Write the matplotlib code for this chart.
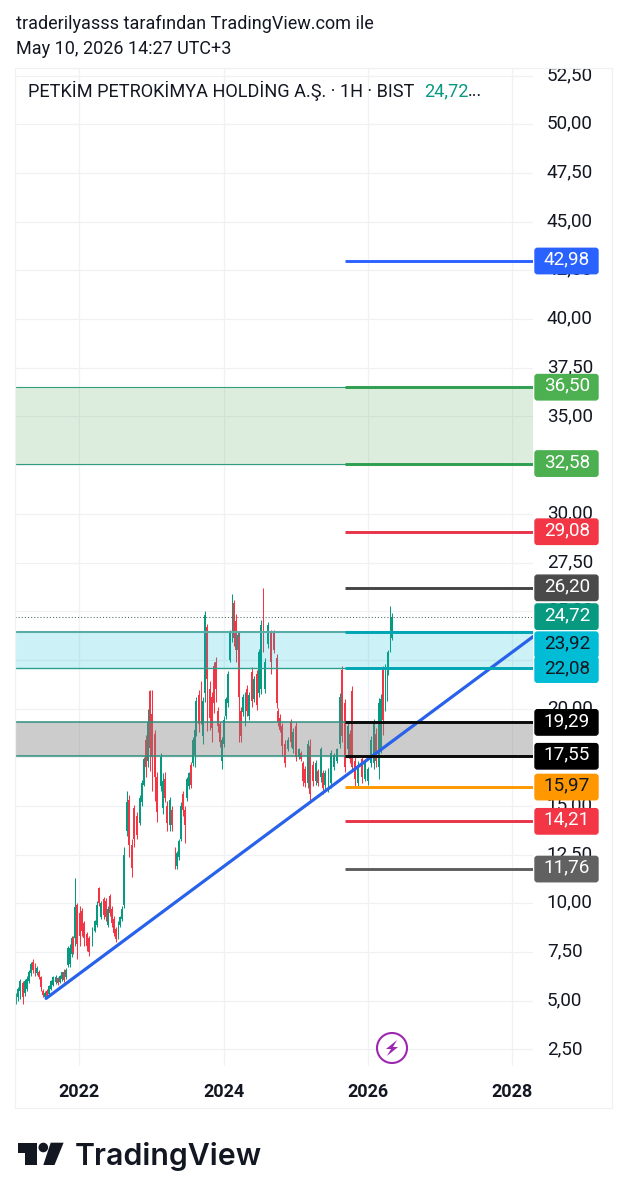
import matplotlib
matplotlib.use("Agg")
import matplotlib.pyplot as plt
from matplotlib.patches import FancyBboxPatch, Polygon, Circle, Rectangle
from matplotlib.transforms import Affine2D, ScaledTranslation

plt.rcParams['font.family'] = ['Roboto', 'DejaVu Sans']

dates = [
 2021.12,2021.15,2021.18,2021.22,2021.25,2021.27,2021.30,2021.33,2021.36,2021.39,
 2021.41,2021.44,2021.47,2021.50,2021.52,2021.55,2021.58,2021.61,2021.63,2021.68,
 2021.70,2021.73,2021.76,2021.79,2021.81,2021.84,2021.87,2021.90,2021.91,2021.94,
 2021.97,2022.01,2022.04,2022.06,2022.11,2022.13,2022.18,2022.22,2022.24,2022.27,
 2022.30,2022.34,2022.37,2022.40,2022.42,2022.45,2022.48,2022.51,2022.54,2022.56,
 2022.59,2022.62,2022.66,2022.69,2022.73,2022.76,2022.80,2022.84,2022.87,2022.90,
 2022.92,2022.95,2022.98,2023.01,2023.05,2023.08,2023.13,2023.16,2023.19,2023.21,
 2023.26,2023.28,2023.33,2023.35,2023.38,2023.41,2023.44,2023.46,2023.49,2023.52,
 2023.55,2023.57,2023.60,2023.62,2023.66,2023.69,2023.71,2023.74,2023.77,2023.81,
 2023.84,2023.87,2023.89,2023.92,2023.95,2023.98,2024.00,2024.03,2024.06,2024.09,
 2024.12,2024.14,2024.17,2024.20,2024.21,2024.24,2024.27,2024.30,2024.32,2024.35,
 2024.39,2024.42,2024.46,2024.49,2024.52,2024.55,2024.57,2024.61,2024.66,2024.70,
 2024.74,2024.75,2024.78,2024.81,2024.85,2024.89,2024.93,2024.96,2025.00,2025.04,
 2025.07,2025.10,2025.13,2025.17,2025.20,2025.24,2025.28,2025.31,2025.35,2025.38,
 2025.40,2025.45,2025.49,2025.53,2025.57,2025.61,2025.64,2025.68,2025.72,2025.75,
 2025.78,2025.82,2025.86,2025.92,2025.96,2026.00,2026.04,2026.08,2026.11,2026.15,
 2026.18,2026.21,2026.24,2026.27,2026.28,2026.31,2026.33,
]
opens = [
 5.0,5.2,5.5,5.9,5.4,5.6,6.0,6.4,7.0,6.8,
 6.4,6.5,6.2,5.5,5.2,5.5,5.35,5.6,5.8,5.95,
 6.15,5.95,6.1,6.5,6.2,6.85,6.9,7.4,8.2,8.2,
 9.9,9.5,9.6,9.0,8.4,8.2,7.9,8.6,8.9,10.8,
 9.3,10.2,10.1,8.9,10.4,9.7,9.2,8.7,8.3,8.9,
 9.2,9.9,13.7,15.3,13.0,14.9,14.5,14.1,15.2,16.1,
 18.4,17.3,20.9,19.7,18.7,16.5,16.0,14.9,16.4,15.0,
 14.0,14.8,12.7,11.9,12.4,13.3,15.6,14.8,15.4,16.0,
 17.1,17.2,17.6,18.7,20.7,21.2,18.6,20.8,24.2,21.0,
 20.6,22.2,22.4,19.9,19.2,17.3,18.2,19.6,20.3,22.5,
 23.6,25.4,24.5,23.0,23.7,19.9,19.8,19.3,21.0,19.6,
 21.9,20.5,21.8,20.8,21.0,25.9,21.0,23.3,23.9,23.9,
 22.6,19.9,19.5,19.1,18.2,17.9,19.3,17.9,19.1,17.5,
 17.7,17.2,16.9,16.2,18.1,17.1,16.3,16.8,16.5,16.7,
 16.1,16.0,16.2,17.0,17.3,18.2,22.0,20.3,17.9,18.7,
 20.9,17.3,16.2,17.4,16.4,16.3,17.2,17.2,18.7,17.0,
 18.0,22.0,20.2,20.6,21.9,23.0,23.6,
]
highs = [
 5.4,5.7,6.1,6.0,6.1,6.25,6.6,7.0,7.15,6.95,
 6.8,6.6,6.25,5.6,5.5,5.6,5.8,6.05,6.25,6.3,
 6.2,6.3,6.5,6.65,6.7,7.8,7.9,8.3,8.3,11.3,
 10.0,9.85,9.75,9.1,8.55,8.3,8.8,9.15,10.1,10.85,
 10.1,10.35,10.25,9.85,10.5,9.85,9.35,8.8,9.1,9.35,
 9.85,12.9,15.75,15.55,13.3,15.05,14.7,15.55,16.35,17.5,
 18.65,20.0,20.95,20.95,18.9,16.75,17.7,16.7,16.75,15.25,
 15.45,15.0,12.9,12.7,13.3,15.2,15.75,15.0,16.5,16.75,
 17.25,18.55,19.05,20.6,20.95,21.4,20.6,25.0,24.35,21.4,
 20.85,22.4,22.65,20.1,19.3,18.55,19.6,20.6,21.95,24.05,
 25.9,25.6,24.85,23.95,23.95,20.1,20.75,20.85,21.2,20.85,
 22.15,21.65,22.0,23.05,24.55,26.2,22.6,24.45,24.05,24.05,
 22.8,20.05,19.7,19.25,18.4,18.55,19.45,19.0,19.3,18.0,
 17.8,17.3,17.05,18.4,18.45,17.3,17.35,16.9,18.05,16.85,
 16.85,16.95,17.85,17.7,18.0,20.8,22.2,20.5,19.3,18.9,
 21.15,17.5,17.3,17.6,17.3,17.0,18.6,19.45,19.0,20.55,
 20.75,22.2,22.3,22.9,23.0,25.25,24.9,
]
lows = [
 4.85,5.0,5.1,4.85,5.25,5.5,5.9,6.25,6.4,6.25,
 6.3,6.1,5.5,5.2,5.15,5.2,5.3,5.55,5.75,5.85,
 5.8,5.9,6.0,5.95,6.1,6.75,6.75,7.25,7.4,7.8,
 7.15,7.8,8.3,7.8,7.55,7.3,7.8,8.55,8.8,9.85,
 9.2,9.2,9.1,8.8,9.35,8.8,8.3,8.0,8.15,8.8,
 9.1,9.75,13.45,12.4,11.35,12.9,13.3,14.0,15.0,16.0,
 16.5,17.0,16.8,15.75,15.25,14.2,15.75,14.6,15.2,13.7,
 13.7,13.7,11.75,11.75,12.25,13.2,14.5,13.1,15.25,15.85,
 15.9,17.05,17.0,18.6,18.8,19.2,18.2,20.35,18.85,18.9,
 18.3,19.75,20.35,18.8,18.05,16.9,18.05,19.45,20.1,22.4,
 23.4,23.2,22.4,22.9,18.3,18.3,19.6,19.1,19.6,19.4,
 20.1,20.35,19.95,20.6,20.75,22.9,20.8,23.1,21.8,22.85,
 20.05,19.1,18.8,17.55,17.0,17.8,18.05,17.7,17.3,17.4,
 17.3,16.0,15.95,15.9,15.2,16.0,16.1,16.05,16.25,15.6,
 15.85,15.7,15.9,16.85,17.2,18.0,18.3,16.75,17.6,17.2,
 16.75,16.05,15.95,16.2,16.3,16.1,17.0,16.9,17.0,16.4,
 17.7,18.65,19.9,20.4,21.7,22.9,23.5,
]
closes = [
 5.3,5.6,6.0,5.2,6.0,6.1,6.5,6.9,6.6,6.4,
 6.7,6.2,5.7,5.3,5.4,5.25,5.75,6.0,6.2,6.2,
 5.9,6.25,6.45,6.05,6.6,7.7,7.7,8.2,7.5,9.8,
 7.9,8.3,8.6,8.2,7.8,7.5,8.7,9.1,9.9,10.0,
 10.0,9.4,9.3,9.7,9.5,9.0,8.5,8.15,9.0,9.3,
 9.7,12.5,15.2,13.0,11.8,13.3,13.5,15.4,16.2,17.4,
 17.0,19.3,18.0,17.5,16.5,14.7,17.5,16.3,15.4,14.1,
 15.3,14.0,12.0,12.6,13.2,15.0,14.8,14.0,16.4,16.7,
 16.1,18.4,18.9,20.4,19.2,19.6,20.4,24.8,21.5,19.5,
 19.0,20.3,21.0,19.1,18.3,18.4,19.4,20.5,21.8,23.9,
 25.7,23.6,23.0,23.8,20.6,18.6,20.6,20.7,19.9,20.7,
 20.4,21.5,20.2,22.9,24.3,23.8,22.4,24.3,22.4,23.0,
 20.3,19.3,18.9,18.1,17.2,18.4,18.3,18.8,17.5,17.9,
 17.4,16.3,16.2,18.2,15.6,16.3,17.2,16.2,17.9,15.9,
 16.7,16.8,17.7,17.6,17.9,20.6,18.6,17.0,19.1,17.4,
 17.0,16.4,17.1,16.5,17.2,16.9,18.4,19.3,17.3,20.3,
 20.5,19.4,22.1,22.7,22.9,24.5,24.72,
]

price_ticks = [2.5,5,7.5,10,12.5,15,17.5,20,22.5,25,27.5,30,32.5,35,37.5,40,42.5,45,47.5,50,52.5]
price_tick_labels = ['2,50','5,00','7,50','10,00','12,50','15,00','17,50','20,00','22,50','25,00','27,50',
                     '30,00','32,50','35,00','37,50','40,00','42,50','45,00','47,50','50,00','52,50']
year_ticks = [2022, 2024, 2026, 2028]

zone_green = (32.58, 36.50)
zone_cyan = (22.08, 23.92)
zone_grey = (17.55, 19.29)

trend_x = [2021.54, 2028.29]
trend_y = [5.12, 23.70]

level_values = [42.98, 36.50, 32.58, 29.08, 26.20, 23.92, 22.08, 19.29, 17.55, 15.97, 14.21, 11.76]
level_labels = ['42,98','36,50','32,58','29,08','26,20','23,92','22,08','19,29','17,55','15,97','14,21','11,76']
level_colors = ['#2962FF','#2E9E4F','#2E9E4F','#E8344A','#454545','#00A6B5','#00A6B5','#0A0A0A','#0A0A0A','#FF9800','#E8344A','#5E5E5E']
box_colors = ['#2962FF','#4CAF50','#4CAF50','#F23645','#4A4A4A','#00BCD4','#00BCD4','#000000','#000000','#FF9800','#F23645','#616161']
text_colors = ['white','white','white','white','white','#131722','#131722','white','white','#131722','white','white']
box_shift_px = [0,0,0,0,0,12.5,1.5,0,0,0,0,0]
level_start = 2025.68
last_price = 24.72

W, H = 627, 1200
fig = plt.figure(figsize=(W/100, H/100), dpi=100, facecolor='white')
L, R, T, B = 15, 533, 68, 1066
ax = fig.add_axes([L/W, 1-B/H, (R-L)/W, (B-T)/H])
ax.set_xlim(2021.109, 2028.287)
ax.set_ylim(1.648, 52.89)
for s in ax.spines.values():
    s.set_visible(False)
ax.set_axisbelow(True)
ax.yaxis.tick_right()
ax.set_yticks(price_ticks)
ax.set_yticklabels(price_tick_labels, fontsize=13.6, color='#131722')
ax.set_xticks(year_ticks)
ax.set_xticklabels([str(y) for y in year_ticks], fontsize=13, fontweight='bold', color='#131722')
ax.tick_params(axis='both', length=0)
ax.tick_params(axis='y', pad=10)
ax.tick_params(axis='x', pad=12)
ax.grid(True, color='#F0F1F4', lw=0.9)
lift = ScaledTranslation(0, 2.5/100, fig.dpi_scale_trans)
for lb in ax.get_yticklabels():
    lb.set_transform(lb.get_transform() + lift)

up, down = '#089981', '#F23645'
for d, o, h, l, c in zip(dates, opens, highs, lows, closes):
    col = up if c >= o else down
    ax.vlines(d, l, h, color=col, lw=0.75, zorder=2)
    ax.bar(d, abs(c-o), width=0.021, bottom=min(o, c), color=col, lw=0, zorder=2)

ax.axhspan(*zone_green, color='#43A047', alpha=0.18, lw=0, zorder=3)
ax.axhspan(*zone_cyan, color='#00BCD4', alpha=0.20, lw=0, zorder=3)
ax.axhspan(*zone_grey, color='#808080', alpha=0.40, lw=0, zorder=3)
for v, col, lw in [(zone_green[0],'#2E9E7F',0.8),(zone_green[1],'#2E9E7F',0.8),
                   (zone_cyan[0],'#2E9E8F',1.0),(zone_cyan[1],'#5AACA6',1.5),
                   (zone_grey[0],'#2E8F7F',1.1),(zone_grey[1],'#2E8F7F',1.1)]:
    ax.axhline(v, color=col, lw=lw, zorder=4)

ax.axhline(last_price, color='#4a6a68', lw=0.75, ls=(0, (1, 2)), zorder=4)
ax.plot(trend_x, trend_y, color='#2962EA', lw=2.3, zorder=5, solid_capstyle='round')
ax.hlines(level_values, level_start, 2028.287, colors=level_colors, lw=2.1, zorder=5)

px = Affine2D().scale(1, -1).translate(0, H)
def ypix(v):
    return H - ax.transData.transform((2022, v))[1]

def add_box(v, label, fc, tc, shift=0, z=10):
    yc = ypix(v) + shift
    fig.add_artist(FancyBboxPatch((535, yc-12.7), 63, 25.4, boxstyle='round,pad=0,rounding_size=2.5',
                                  transform=px, fc=fc, ec=fc, lw=1, zorder=z))
    fig.text(567/W, 1-(yc-1.5)/H, label, color=tc, fontsize=13.6, ha='center', va='center', zorder=z+1)

for v, lab, fc, tc, sh in zip(level_values, level_labels, box_colors, text_colors, box_shift_px):
    add_box(v, lab, fc, tc, sh)
add_box(last_price, '24,72', '#089981', 'white', 0, 12)

fig.add_artist(Rectangle((15, 68), 597, 1040, transform=px, fc='none', ec='#F0F1F4', lw=0.9, zorder=1))

fig.text(16/W, 1-24/H, 'traderilyasss tarafından TradingView.com ile', fontsize=12.95, color='#131722', va='center')
fig.text(16/W, 1-49.5/H, 'May 10, 2026 14:27 UTC+3', fontsize=12.95, color='#131722', va='center')
fig.text(28/W, 1-91/H, 'PETKİM PETROKİMYA HOLDİNG A.Ş. · 1H · BIST', fontsize=13.05, color='#131722', va='center')
fig.text(424/W, 1-91/H, '24,72', fontsize=13.05, color='#089981', va='center')
fig.text(468/W, 1-91/H, '...', fontsize=13.05, color='#131722', va='center')

# lightning badge
fig.add_artist(Circle((392, 1048), 15, transform=px, fc='white', ec='#9C27B0', lw=1.5, zorder=8))
fig.add_artist(Polygon([(397,1040),(386,1049),(391,1049),(387,1056),(398,1047),(393,1047)],
                       closed=True, transform=px, fc='#9C27B0', ec='none', zorder=9))

# TradingView logo
logo = '#131722'
fig.add_artist(Polygon([(18.3,1142.7),(37.3,1142.7),(37.3,1165),(25,1165),(25,1153.3),(18.3,1153.3)],
                       closed=True, transform=px, fc=logo, ec='none'))
fig.add_artist(Circle((43.3,1147.5), 4.8, transform=px, fc=logo, ec='none'))
fig.add_artist(Polygon([(50.7,1142.7),(63.6,1142.7),(54.5,1165),(43.3,1165)],
                       closed=True, transform=px, fc=logo, ec='none'))
fig.text(74.5/W, 1-1165/H, 'TradingView', fontsize=21.8, fontweight='semibold', family=['Inter','Roboto','DejaVu Sans'],
         color=logo, va='baseline')

assert len(dates)==len(opens)==len(highs)==len(lows)==len(closes)
fig.savefig('out.png', dpi=100, facecolor='white')
